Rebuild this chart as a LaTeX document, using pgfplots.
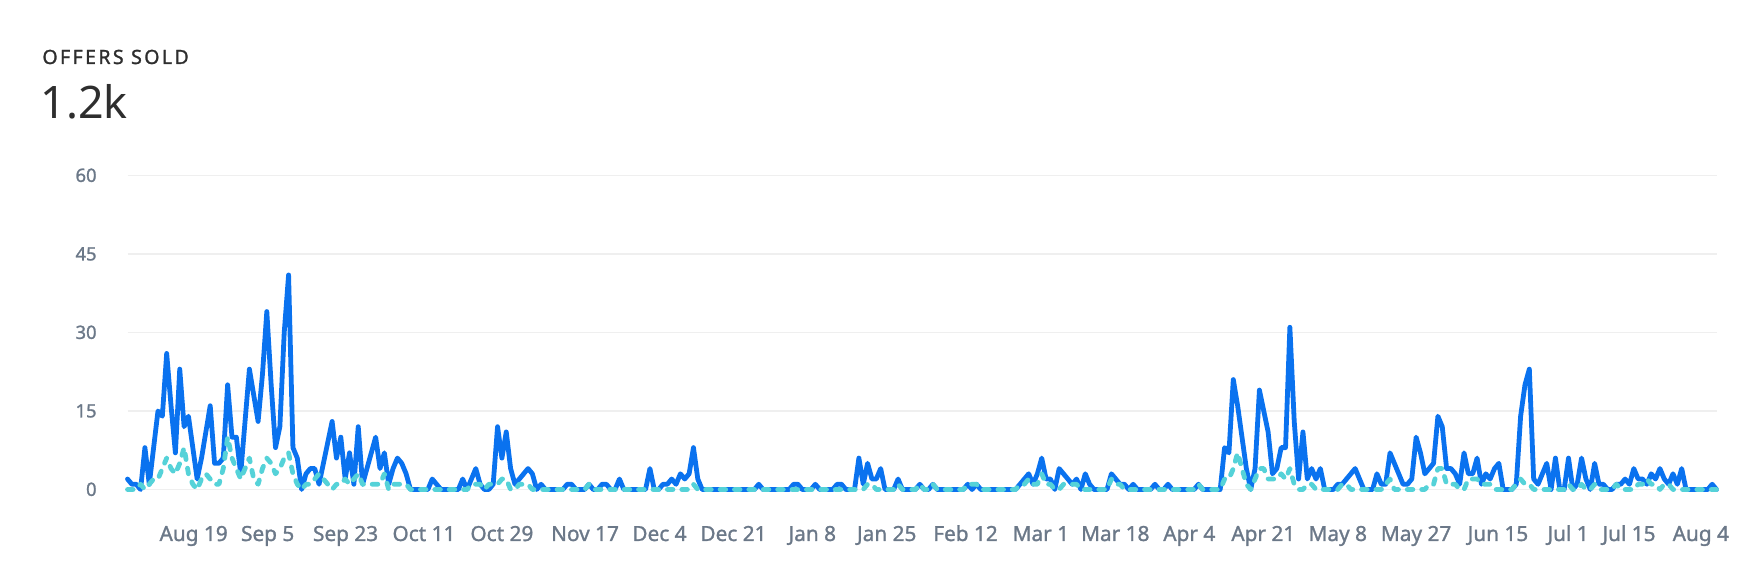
\documentclass[border=0pt]{standalone}
\usepackage{fontspec}
\setmainfont{Noto Sans}
\newfontfamily\medfont{Noto Sans}[FakeBold=1.3]
\usepackage{pgfplots}
\usepackage{pgfplotstable}
\pgfplotsset{compat=1.18}
\definecolor{blueline}{HTML}{0A72EF}
\definecolor{cyanline}{HTML}{55D2D8}
\definecolor{ticklab}{HTML}{6B7888}
\definecolor{gridc}{HTML}{EFEFEF}
\definecolor{titlec}{HTML}{2E2E2E}

\pgfplotstableread{
d b c
0 2 0
1 1 0
2 1 0
3 0 1
4 8 0
5 1 1
6 8 2
7 15 2
8 14 4
9 26 6
10 16 4
11 7 3
12 23 5
13 12 8
14 14 3
15 8 1
16 2 0
17 6 2
18 11 3
19 16 2
20 5 1
21 5 1
22 6 4
23 20 10
24 10 6
25 10 4
26 3 2
27 13 4
28 23 6
29 18 2
30 13 1
31 22 4
32 34 6
33 20 5
34 8 3
35 12 4
36 30 6
37 41 7
38 8 3
39 6 1
40 0 0
41 3 1
42 4 1
43 4 2
44 1 3
45 5 2
46 9 1
47 13 0
48 6 1
49 10 1
50 2 2
51 7 1
52 1 2
53 12 3
54 1 1
55 4 1
56 7 1
57 10 1
58 4 1
59 7 3
60 1 0
61 4 1
62 6 1
63 5 1
64 3 1
65 0 0
66 0 0
67 0 0
68 0 0
69 0 0
70 2 0
71 1 0
72 0 0
73 0 0
74 0 0
75 0 0
76 0 0
77 2 0
78 0 0
79 2 1
80 4 1
81 1 1
82 0 0
83 0 1
84 1 1
85 12 1
86 6 2
87 11 2
88 4 0
89 1 0
90 2 1
91 3 1
92 4 1
93 3 0
94 0 0
95 1 0
96 0 0
97 0 0
98 0 0
99 0 0
100 0 0
101 1 0
102 1 0
103 0 0
104 0 0
105 0 0
106 1 1
107 0 0
108 0 0
109 1 0
110 1 0
111 0 0
112 0 0
113 2 0
114 0 0
115 0 0
116 0 0
117 0 0
118 0 0
119 0 0
120 4 0
121 0 0
122 0 0
123 1 0
124 1 0
125 2 0
126 1 0
127 3 0
128 2 0
129 3 0
130 8 1
131 2 0
132 0 0
133 0 0
134 0 0
135 0 0
136 0 0
137 0 0
138 0 0
139 0 0
140 0 0
141 0 0
142 0 0
143 0 0
144 0 0
145 1 0
146 0 0
147 0 0
148 0 0
149 0 0
150 0 0
151 0 0
152 0 0
153 1 0
154 1 0
155 0 0
156 0 0
157 0 0
158 1 0
159 0 0
160 0 0
161 0 0
162 0 0
163 1 0
164 1 0
165 0 0
166 0 0
167 0 0
168 6 0
169 1 0
170 5 1
171 2 1
172 2 0
173 4 0
174 0 0
175 0 0
176 0 0
177 2 1
178 0 0
179 0 0
180 0 0
181 0 0
182 1 1
183 0 0
184 0 0
185 1 1
186 0 0
187 0 0
188 0 0
189 0 0
190 0 0
191 0 0
192 0 0
193 1 1
194 0 1
195 1 1
196 0 0
197 0 0
198 0 0
199 0 0
200 0 0
201 0 0
202 0 0
203 0 0
204 0 0
205 1 1
206 2 1
207 3 2
208 1 1
209 3 1
210 6 3
211 2 1
212 2 1
213 0 0
214 4 0
215 3 1
216 2 1
217 1 1
218 2 1
219 0 0
220 3 0
221 1 0
222 0 0
223 0 0
224 0 0
225 0 0
226 3 2
227 2 1
228 1 1
229 1 0
230 0 0
231 1 0
232 0 0
233 0 0
234 0 0
235 0 0
236 1 0
237 0 0
238 0 0
239 1 0
240 0 0
241 0 0
242 0 0
243 0 0
244 0 0
245 0 0
246 1 1
247 0 0
248 0 0
249 0 0
250 0 0
251 0 0
252 8 2
253 7 2
254 21 4
255 16 7
256 10 4
257 4 1
258 0 0
259 4 2
260 19 4
261 15 4
262 11 2
263 3 2
264 4 2
265 8 3
266 8 2
267 31 4
268 13 1
269 2 0
270 11 0
271 2 1
272 4 1
273 2 0
274 4 0
275 0 0
276 0 0
277 0 0
278 1 0
279 1 1
280 2 1
281 3 0
282 4 0
283 2 0
284 0 0
285 0 0
286 0 0
287 3 0
288 1 0
289 1 1
290 7 2
291 5 0
292 3 0
293 1 0
294 1 0
295 2 0
296 10 0
297 7 0
298 3 0
299 4 1
300 5 1
301 14 4
302 12 4
303 4 1
304 4 1
305 3 1
306 1 0
307 7 0
308 3 2
309 3 2
310 6 2
311 1 1
312 3 1
313 2 1
314 4 0
315 5 0
316 0 0
317 0 0
318 0 0
319 1 1
320 14 2
321 20 1
322 23 1
323 2 0
324 1 0
325 3 0
326 5 0
327 0 0
328 6 0
329 0 0
330 0 0
331 6 1
332 0 0
333 1 0
334 6 1
335 2 0
336 0 0
337 5 1
338 1 0
339 1 0
340 0 0
341 0 0
342 1 1
343 1 0
344 2 0
345 1 0
346 4 0
347 2 1
348 2 1
349 1 2
350 3 1
351 2 1
352 4 0
353 2 1
354 1 1
355 3 0
356 1 0
357 4 0
358 0 0
359 0 0
360 0 0
361 0 0
362 0 0
363 0 0
364 1 0
365 0 0
}\offers

\begin{document}
\begin{tikzpicture}[x=1pt,y=1pt]
\useasboundingbox (0,0) rectangle (882,291);
\node[anchor=base west, inner sep=0pt, text=titlec, font={\medfont\fontsize{9.8}{11}\selectfont\addfontfeatures{LetterSpace=12}}] at (21,259) {OFFERS SOLD};
\node[anchor=base west, inner sep=0pt, text=titlec, font={\fontsize{22.4}{26}\selectfont}] at (20,231.5) {1.2k};
\begin{axis}[
  at={(63.75pt,46.25pt)}, anchor=south west,
  scale only axis, width=794.5pt, height=157pt,
  xmin=0, xmax=365, ymin=0, ymax=60,
  axis line style={draw=none},
  tick style={draw=none},
  ymajorgrids, xmajorgrids=false,
  major grid style={gridc, line width=0.8pt},
  ytick={0,15,30,45,60},
  yticklabels={0,15,30,45,60},
  xtick={15.2,32.2,50.1,68.1,86,105.1,122.2,139.2,157.3,174.4,192.5,209.8,226.9,243.9,260.9,278,296,314.8,330.9,344.9,361.4},
  xticklabels={Aug 19,Sep 5,Sep 23,Oct 11,Oct 29,Nov 17,Dec 4,Dec 21,Jan 8,Jan 25,Feb 12,Mar 1,Mar 18,Apr 4,Apr 21,May 8,May 27,Jun 15,Jul 1,Jul 15,Aug 4},
  yticklabel style={anchor=base east, inner sep=0pt, xshift=-15.25pt, yshift=-3.2pt, text=ticklab, font=\medfont\fontsize{9.2}{10}\selectfont},
  xticklabel style={anchor=base, inner sep=0pt, yshift=-25.75pt, text=ticklab, font=\medfont\fontsize{10.4}{12}\selectfont},
  clip=false,
]
\addplot[blueline, line width=2.4pt, line join=round, line cap=round] table[x=d, y=b] {\offers};
\addplot[cyanline, line width=2.4pt, line join=round, line cap=round, dash pattern=on 2.8pt off 4.4pt] table[x=d, y=c] {\offers};
\end{axis}
\end{tikzpicture}
\end{document}
